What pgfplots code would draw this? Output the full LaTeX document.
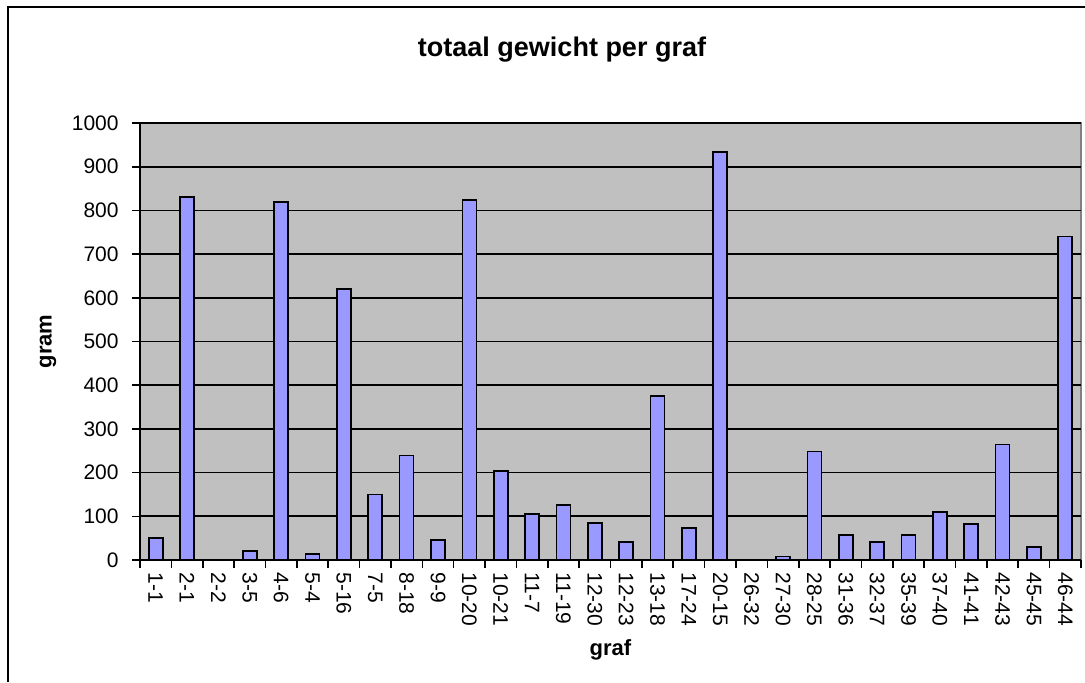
\documentclass[border=0pt]{standalone}
\usepackage{pgfplots}
\pgfplotsset{compat=1.18}
\usepackage{pgfplotstable}
\usepackage{fontspec}
\setmainfont{Liberation Sans}
\definecolor{barblue}{HTML}{9999FF}
\definecolor{bggray}{HTML}{C0C0C0}
\definecolor{bordergray}{HTML}{808080}
\pgfplotstableread{
x y
0 50
1 830
2 0
3 20
4 820
5 13
6 620
7 150
8 239
9 45
10 824
11 203
12 106
13 126
14 85
15 41
16 375
17 74
18 933
19 0
20 8
21 248
22 57
23 41
24 57
25 110
26 82
27 264
28 29
29 740
}\datatable
\begin{document}
\begin{tikzpicture}
\useasboundingbox (0,0) rectangle (542.5pt,341pt);
\draw[line width=1pt] (3.75pt,0) -- (3.75pt,337.5pt) -- (542.5pt,337.5pt);
\begin{axis}[
  at={(70pt,61pt)}, anchor=south west,
  width=470.5pt, height=218.5pt, scale only axis,
  axis lines*=left,
  axis line style={-, black, line width=0.9pt},
  axis background/.style={fill=bggray, draw=bordergray, line width=0.9pt},
  xmin=-0.5, xmax=29.5, ymin=0, ymax=1000,
  ytick={0,100,...,1000},
  xtick={-0.5,0.5,1.5,2.5,3.5,4.5,5.5,6.5,7.5,8.5,9.5,10.5,11.5,12.5,13.5,14.5,15.5,16.5,17.5,18.5,19.5,20.5,21.5,22.5,23.5,24.5,25.5,26.5,27.5,28.5,29.5},
  xticklabels={},
  extra x ticks={0,...,29},
  extra x tick labels={1-1,2-1,2-2,3-5,4-6,5-4,5-16,7-5,8-18,9-9,10-20,10-21,11-7,11-19,12-30,12-23,13-18,17-24,20-15,26-32,27-30,28-25,31-36,32-37,35-39,37-40,41-41,42-43,45-45,46-44},
  extra x tick style={major tick length=0pt, xticklabel style={yshift=-6pt, rotate=-90, anchor=west, inner sep=0pt}},
  tick align=outside,
  major tick length=4pt,
  tick style={black, line width=0.8pt},
  ymajorgrids,
  grid style={black, line width=0.85pt},
  /pgf/number format/assume math mode=true,
  tick label style={font=\fontsize{10.5}{12}\selectfont},
  yticklabel style={anchor=east, inner sep=0pt, xshift=-6.5pt},
  /pgf/number format/.cd, use comma=false, 1000 sep={},
]
\addplot[ybar, bar width=7pt, fill=barblue, draw=black, line width=0.85pt] table[x=x,y=y] {\datatable};
\end{axis}
\node[font=\bfseries\fontsize{13.5}{16}\selectfont] at (281pt,316pt) {totaal gewicht per graf};
\node[font=\bfseries\fontsize{11}{13}\selectfont, rotate=90] at (24pt,170.25pt) {gram};
\node[font=\bfseries\fontsize{11}{13}\selectfont] at (305.25pt,16pt) {graf};
\end{tikzpicture}
\end{document}
